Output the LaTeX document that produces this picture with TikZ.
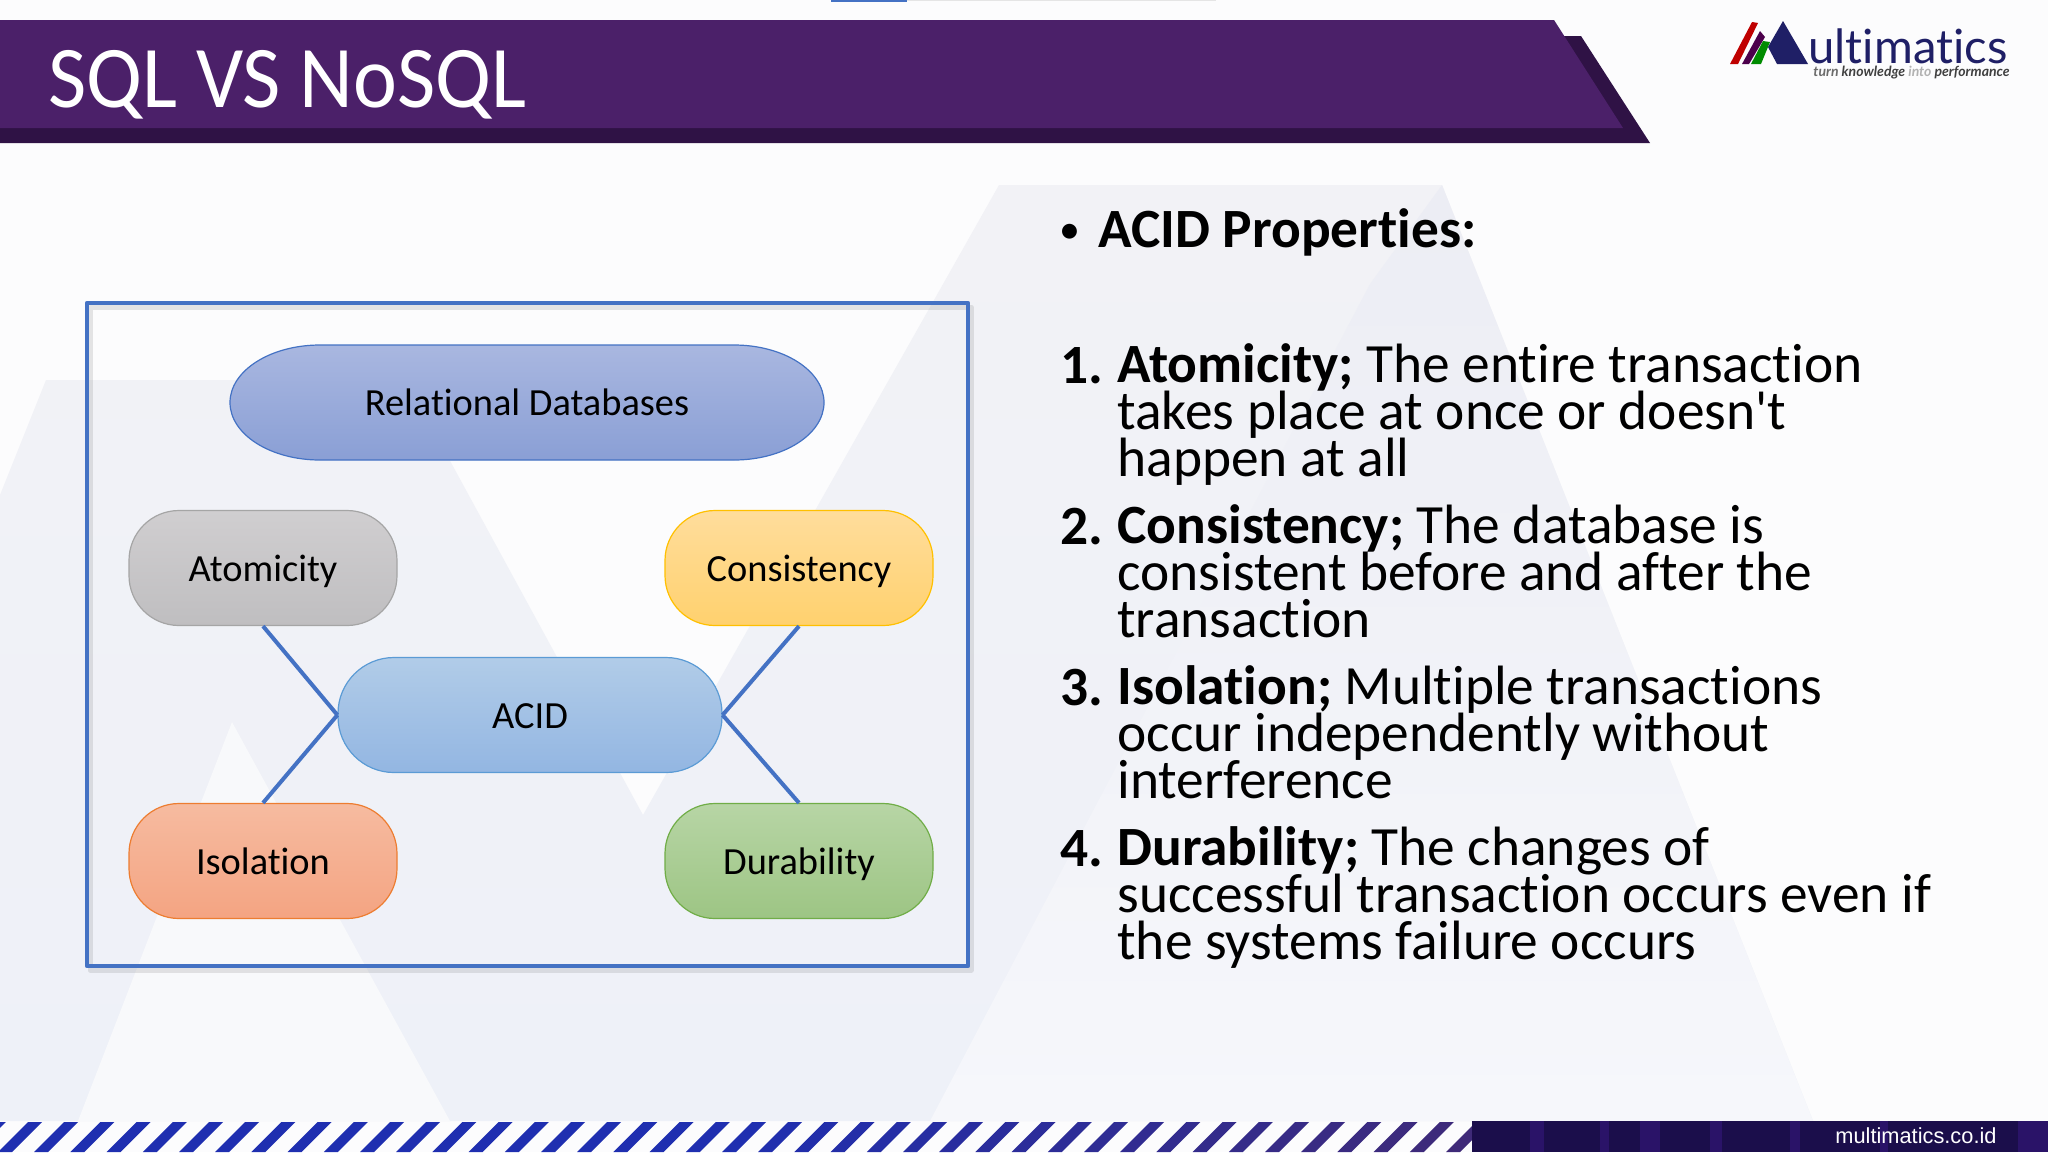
\documentclass[tikz,border=0pt]{standalone}
\usepackage{fontspec}
\newfontfamily\slidefont{Carlito}[Ligatures=NoCommon, RawFeature={-liga;-clig;-dlig}]
\newfontfamily\logofont{Lato}[Ligatures=NoCommon, RawFeature={-liga;-clig;-dlig}]
\newfontfamily\footfont{Liberation Sans}
\definecolor{pageWhite}{HTML}{FCFCFD}
\definecolor{markTop}{HTML}{F2F2F6}
\definecolor{markBot}{HTML}{EEF1F8}
\definecolor{markBand}{HTML}{ECEDF4}
\definecolor{markPale}{HTML}{F6F7FB}
\definecolor{barMain}{HTML}{4B2069}
\definecolor{barDark}{HTML}{2F1245}
\definecolor{frameBlue}{HTML}{4472C4}
\definecolor{stripeL}{HTML}{1F2FB0}
\definecolor{stripeR}{HTML}{3F2A78}
\definecolor{panelDark}{HTML}{1B0E4B}
\definecolor{panelLite}{HTML}{2A1368}
\definecolor{logoNavy}{HTML}{1F1F66}
\definecolor{relTop}{HTML}{A9B7E0}
\definecolor{relBot}{HTML}{8A9FD5}
\definecolor{grayTop}{HTML}{D0CED0}
\definecolor{grayBot}{HTML}{BFBEC0}
\definecolor{grayLine}{HTML}{A5A5A5}
\definecolor{goldTop}{HTML}{FFDD9C}
\definecolor{goldBot}{HTML}{FFD16E}
\definecolor{goldLine}{HTML}{FFC000}
\definecolor{acidTop}{HTML}{B1CCE8}
\definecolor{acidBot}{HTML}{93B6E2}
\definecolor{acidLine}{HTML}{5B9BD5}
\definecolor{isoTop}{HTML}{F6BBA0}
\definecolor{isoBot}{HTML}{F4A482}
\definecolor{isoLine}{HTML}{ED7D31}
\definecolor{durTop}{HTML}{B7D5A5}
\definecolor{durBot}{HTML}{9DC584}
\definecolor{durLine}{HTML}{70AD47}
\tikzset{
	label/.style={font=\slidefont\fontsize{19.2}{22}\selectfont, text height=18pt, text depth=5pt, inner sep=0pt},
	pill/.style={label, draw=#1Line, line width=0.6pt, top color=#1Top, bottom color=#1Bot, rounded corners=25pt, minimum width=134pt, minimum height=57.5pt},
	body/.style={anchor=base west, inner sep=0pt, align=left, font=\slidefont\fontsize{27.7}{23.3}\selectfont, execute at begin node={\lineskiplimit=-30pt\relax}},
	link/.style={draw=frameBlue, line width=2pt}
}
\begin{document}
\begin{tikzpicture}[x=0.5pt, y=-0.5pt, line join=round]
	\useasboundingbox (0,0) rectangle (2048,1152);
	\fill[pageWhite] (0,0) rectangle (2048,1152);
	
	\path[top color=markTop, bottom color=markBot] (0,495)--(46,380)--(406,380)--(643,815)--(999,185)--(1442,185)--(1813,1121)--(0,1121)--cycle;
	\path[top color=markBand, bottom color=markPale] (1370,284)--(1442,185)--(1813,1121)--(930,1121)--cycle;
	\fill[pageWhite!70!markBot] (232,722)--(78,1121)--(450,1121)--cycle;
	
	\fill[frameBlue] (831,0) rectangle (907,2);
	\fill[gray!20] (907,0) rectangle (1216,1);
	
	\fill[barDark] (0,143)--(1650,143)--(1581,36)--(1540,36)--(1540,100)--(0,100)--cycle;
	\fill[barMain] (0,20)--(1554,20)--(1623,128)--(0,128)--cycle;
	\node[anchor=base west, inner sep=0pt, text=white, transform shape, xscale=0.945, font=\slidefont\fontsize{44}{50}\selectfont] (title) at (48,107) {SQL VS NoSQL};
	
	\fill[red!75!black] (1730,64)--(1752,22)--(1758,23)--(1738,64)--cycle;
	\fill[violet!60!black] (1742,64)--(1760,31)--(1765,37)--(1749,64)--cycle;
	\fill[green!55!black] (1751,64)--(1763,41)--(1770,42)--(1761,64)--cycle;
	\fill[logoNavy] (1768,47)--(1783,21)--(1808,64)--(1777,64)--cycle;
	\node[anchor=base west, inner sep=0pt, text=logoNavy, font=\logofont\fontsize{23.6}{25}\selectfont] (logo) at (1808,63) {ultimatics};
	\node[anchor=base west, inner sep=0pt, font=\logofont\fontsize{7}{7}\selectfont\itshape\bfseries, text=gray!85!black] (slogan) at (1813,76) {turn \textcolor{black!75}{knowledge} \textcolor{gray!60}{into} \textcolor{black!75}{performance}};
	
	\draw[gray, opacity=0.2, line width=2.5pt] (90,307) rectangle (971,970);
	\draw[frameBlue, line width=2.4pt] (87,303) rectangle (968,966);
	
	\path[draw=frameBlue, line width=0.6pt, top color=relTop, bottom color=relBot] (320,345) arc[start angle=-90, end angle=-270, x radius=90, y radius=57.5] -- (734,460) arc[start angle=-270, end angle=-450, x radius=90, y radius=57.5] -- cycle;
	\node[label] (rel) at (527,402.5) {Relational Databases};
	
	\foreach \n/\x/\y/\c/\t in {atom/263/568/gray/Atomicity, cons/799/568/gold/Consistency, iso/263/861/iso/Isolation, dur/799/861/dur/Durability} {
		\node[pill=\c] (\n) at (\x,\y) {\t};
	}
	\node[pill=acid, minimum width=192pt, rounded corners=28pt] (acid) at (530,715) {ACID};
	
	\draw[link] (atom.south)--(acid.west) (iso.north)--(acid.west);
	\draw[link] (cons.south)--(acid.east) (dur.north)--(acid.east);
	
	\node[anchor=base west, inner sep=0pt, font=\slidefont\fontsize{21}{22}\selectfont] (dot) at (1059,243) {•};
	\node[body] (head) at (1098,247) {\textbf{ACID Properties:}};
	\foreach \n/\y in {1/383, 2/544, 3/705, 4/866} {
		\node[body] (num\n) at (1060,\y) {\textbf{\n.}};
	}
	\node[body] (one) at (1117,476) {\textbf{Atomicity;} The entire transaction\\takes place at once or doesn't\\happen at all};
	\node[body] (two) at (1117,637) {\textbf{Consistency;} The database is\\consistent before and after the\\transaction};
	\node[body] (three) at (1117,798) {\textbf{Isolation;} Multiple transactions\\occur independently without\\interference};
	\node[body] (four) at (1117,959) {\textbf{Durability;} The changes of\\successful transaction occurs even if\\the systems failure occurs};
	
	\foreach \k in {-1,...,40} {
		\pgfmathsetmacro\m{max(0,min(100,(\k-20)*5))}
		\fill[stripeR!\m!stripeL] ({28+36.2*\k},1122)--({42+36.2*\k},1122)--({12+36.2*\k},1152)--({-2+36.2*\k},1152)--cycle;
	}
	\fill[panelDark] (1472,1121) rectangle (2048,1152);
	\foreach \x/\w in {1530/14, 1600/9, 1640/20, 1710/12, 1790/10, 1880/8, 2018/30} {
		\fill[panelLite] (\x,1121) rectangle ({\x+\w},1152);
	}
	\node[anchor=base west, inner sep=0pt, text=white, font=\footfont\fontsize{10.9}{12}\selectfont] (site) at (1835,1143) {multimatics.co.id};
\end{tikzpicture}
\end{document}
